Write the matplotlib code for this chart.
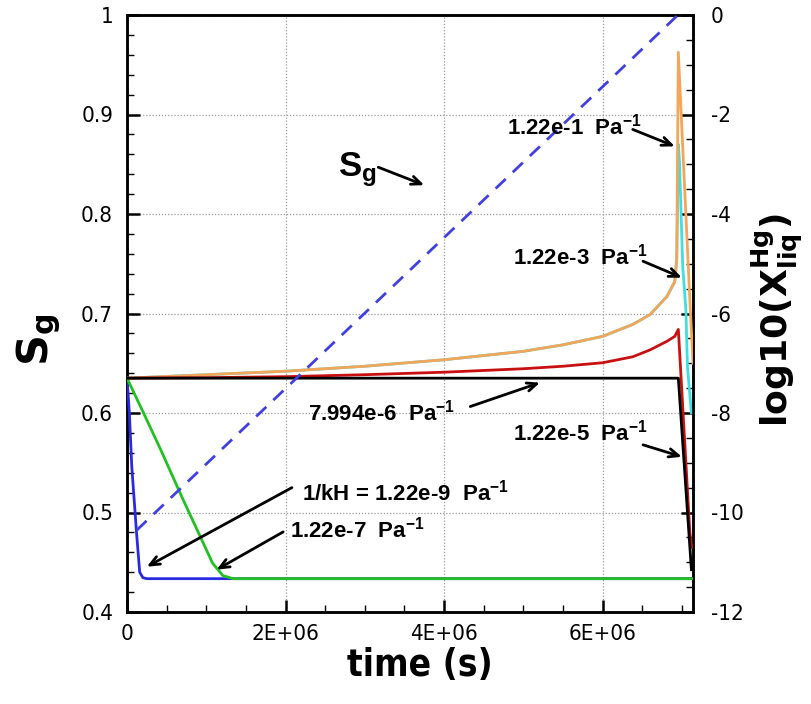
import os
import numpy as np
import matplotlib
matplotlib.use('Agg')
import matplotlib.pyplot as plt
from matplotlib import font_manager
from matplotlib.font_manager import FontProperties
from matplotlib.ticker import MultipleLocator, FixedLocator, FixedFormatter


def find_condensed(bold):
    cands = []
    for f in font_manager.fontManager.ttflist:
        nm = (f.name + ' ' + os.path.basename(f.fname)).lower()
        if 'sans' not in nm or 'mono' in nm or 'cjk' in nm or 'italic' in nm or 'oblique' in nm:
            continue
        if not ('narrow' in nm or 'condensed' in nm or f.stretch in ('condensed', 'semi-condensed')):
            continue
        if 'extra' in nm or 'ultra' in nm or 'semicondensed' in nm or 'semi' in nm:
            continue
        w = f.weight if isinstance(f.weight, int) else (700 if 'bold' in str(f.weight) else 400)
        if bold and w != 700:
            continue
        if not bold and w != 400:
            continue
        score = 0 if 'liberation' in nm else (1 if 'noto' in nm else 2)
        cands.append((score, f.fname))
    cands.sort()
    return cands[0][1] if cands else None


COND_REG = find_condensed(False)
COND_BOLD = find_condensed(True)

plt.rcParams['font.family'] = ['Liberation Sans', 'DejaVu Sans']
plt.rcParams['mathtext.fontset'] = 'custom'
plt.rcParams['mathtext.rm'] = 'Liberation Sans'
plt.rcParams['mathtext.it'] = 'Liberation Sans:italic'
plt.rcParams['mathtext.bf'] = 'Liberation Sans:bold'
plt.rcParams['mathtext.default'] = 'bf'

# ---------------- data ----------------
sg_time = [0.12e6, 6.95e6]
sg_values = [0.482, 1.0]

orange_time = [0, 1e6, 2e6, 3e6, 4e6, 5e6, 5.5e6, 6.0e6, 6.38e6, 6.6e6, 6.81e6, 6.91e6, 6.935e6, 6.955e6, 7.10e6, 7.14e6]
orange_vals = [-7.30, -7.23, -7.16, -7.06, -6.93, -6.76, -6.63, -6.46, -6.22, -6.02, -5.66, -5.36, -4.9, -0.75, -5.72, -7.0]

cyan_time = [0, 1e6, 2e6, 3e6, 4e6, 5e6, 5.5e6, 6.0e6, 6.38e6, 6.6e6, 6.81e6, 6.91e6, 6.935e6, 6.955e6, 6.97e6, 7.01e6, 7.05e6, 7.07e6, 7.12e6]
cyan_vals = [-7.30, -7.23, -7.16, -7.06, -6.93, -6.76, -6.63, -6.46, -6.22, -6.02, -5.66, -5.36, -4.9, -2.6, -2.96, -5.05, -5.92, -7.07, -8.0]

red_time = [0, 1e6, 2e6, 3e6, 4e6, 5e6, 5.5e6, 6.0e6, 6.38e6, 6.6e6, 6.81e6, 6.91e6, 6.955e6, 7.10e6, 7.12e6]
red_vals = [-7.30, -7.29, -7.27, -7.23, -7.18, -7.11, -7.06, -6.99, -6.87, -6.73, -6.56, -6.46, -6.32, -10.4, -10.7]

black_time = [0, 6.955e6, 7.12e6]
black_vals = [-7.30, -7.30, -11.15]

blue_time = [0, 0.03e6, 0.06e6, 0.12e6, 0.16e6, 0.20e6, 0.25e6, 7.12e6]
blue_vals = [-7.30, -8.0, -9.07, -10.4, -11.2, -11.31, -11.33, -11.33]

green_time = [0, 0.2e6, 0.42e6, 0.71e6, 0.92e6, 1.08e6, 1.21e6, 1.34e6, 7.12e6]
green_vals = [-7.30, -7.97, -8.72, -9.75, -10.47, -11.02, -11.27, -11.33, -11.33]

x_ticks = [0, 2e6, 4e6, 6e6]
x_ticklabels = ['0', '2E+06', '4E+06', '6E+06']
left_ticks = [0.4, 0.5, 0.6, 0.7, 0.8, 0.9, 1.0]
left_ticklabels = ['0.4', '0.5', '0.6', '0.7', '0.8', '0.9', '1']
right_ticks = [-12, -10, -8, -6, -4, -2, 0]
right_ticklabels = ['-12', '-10', '-8', '-6', '-4', '-2', '0']

# annotations: (text, text position, arrow tail, arrow tip) in (time, log10) coords
labels = [
    ('1.22e-1  Pa$^{-1}$', (4.79e6, -2.24), (6.38e6, -2.30), (6.91e6, -2.64)),
    ('1.22e-3  Pa$^{-1}$', (4.87e6, -4.85), (6.51e6, -4.95), (7.00e6, -5.28)),
    ('7.994e-6  Pa$^{-1}$', (2.28e6, -8.00), (4.33e6, -7.87), (5.21e6, -7.39)),
    ('1.22e-5  Pa$^{-1}$', (4.87e6, -8.40), (6.51e6, -8.64), (7.00e6, -8.88)),
    ('1/kH = 1.22e-9  Pa$^{-1}$', (2.21e6, -9.60), (2.08e6, -9.50), (0.25e6, -11.09)),
    ('1.22e-7  Pa$^{-1}$', (2.06e6, -10.35), (1.97e6, -10.39), (1.13e6, -11.15)),
]
sg_label = ('S$_g$', (2.66e6, -3.10), (3.17e6, -3.06), (3.75e6, -3.42))

# ---------------- figure ----------------
fig = plt.figure(figsize=(8.12, 7.04), dpi=100)
ax = fig.add_axes([127/812, 1-612/704, (693-127)/812, (612-15)/704])
ax2 = ax.twinx()

ax.set_xlim(0, 7.14e6)
ax.set_ylim(0.4, 1.0)
ax2.set_ylim(-12, 0)

lw = 2.0
ax2.plot(cyan_time, cyan_vals, color='#40dede', lw=lw, zorder=2)
ax2.plot(orange_time, orange_vals, color='#f2a65a', lw=lw, zorder=3)
ax2.plot(red_time, red_vals, color='#c81010', lw=lw, zorder=4)
ax2.plot(blue_time, blue_vals, color='#2a2ae0', lw=lw, zorder=5)
ax2.plot(green_time, green_vals, color='#22c022', lw=lw, zorder=6)
ax2.plot(black_time, black_vals, color='black', lw=lw, zorder=7)
ax2.plot(sg_time, sg_values, color='#4040e0', lw=lw, ls=(0, (5, 3.5)), zorder=8,
         transform=ax.transData)

# grid
ax.grid(True, which='major', ls=(0, (1, 1.5)), color='#999999', lw=0.9)
ax.set_axisbelow(True)

# ticks
ax.xaxis.set_major_locator(FixedLocator(x_ticks))
ax.xaxis.set_major_formatter(FixedFormatter(x_ticklabels))
ax.xaxis.set_minor_locator(MultipleLocator(0.5e6))
ax.yaxis.set_major_locator(FixedLocator(left_ticks))
ax.yaxis.set_major_formatter(FixedFormatter(left_ticklabels))
ax.yaxis.set_minor_locator(MultipleLocator(0.02))
ax2.yaxis.set_major_locator(FixedLocator(right_ticks))
ax2.yaxis.set_major_formatter(FixedFormatter(right_ticklabels))
ax2.yaxis.set_minor_locator(MultipleLocator(0.5))

tick_size = 16 if COND_REG else 14
for a in (ax, ax2):
    a.tick_params(which='major', direction='in', length=9, width=1.8, labelsize=tick_size)
    a.tick_params(which='minor', direction='in', length=5, width=1.0)
ax.tick_params(axis='x', pad=9)
ax.tick_params(axis='y', pad=10)
ax2.tick_params(axis='y', pad=13)
ax.tick_params(axis='y', which='both', right=False)
if COND_REG:
    for t in ax.get_xticklabels() + ax.get_yticklabels() + ax2.get_yticklabels():
        t.set_fontproperties(FontProperties(fname=COND_REG, size=tick_size))
for s in ax.spines.values():
    s.set_linewidth(1.8)
for s in ax2.spines.values():
    s.set_linewidth(1.8)

renderer = fig.canvas.get_renderer()


def fit_size(text_obj, size0, target_px, horizontal=True):
    text_obj.set_fontsize(size0)
    bb = text_obj.get_window_extent(renderer)
    cur = bb.width if horizontal else bb.height
    if cur > 0:
        text_obj.set_fontsize(size0 * target_px / cur)


xl = ax.set_xlabel('time (s)', fontsize=30, fontweight='bold')
if COND_BOLD:
    xl.set_fontproperties(FontProperties(fname=COND_BOLD, size=30))
fit_size(xl, 30, 146, True)
ax.xaxis.set_label_coords(0.518, -0.058)

ylab = ax.set_ylabel('S$_g$', fontsize=31, fontweight='bold', family='DejaVu Sans')
ylab.set_math_fontfamily('dejavusans')
ax.yaxis.set_label_coords(-0.113, 0.456)

rlab = ax2.set_ylabel('log10(X$_{liq}^{Hg}$)', fontsize=30, fontweight='bold', family='DejaVu Sans')
rlab.set_math_fontfamily('dejavusans')
fit_size(rlab, 30, 214, False)
ax2.yaxis.set_label_coords(1.1, 0.49)

arrow_kw = dict(arrowstyle='->,head_length=0.7,head_width=0.3', lw=2.0, color='black',
                shrinkA=0, shrinkB=0)
for txt, tpos, tail, tip in labels:
    ax2.text(tpos[0], tpos[1], txt, fontsize=16, fontweight='bold', ha='left', va='center', zorder=10)
    ax2.annotate('', xy=tip, xytext=tail, arrowprops=arrow_kw, zorder=10)

txt, tpos, tail, tip = sg_label
ax2.text(tpos[0], tpos[1], txt, fontsize=25, fontweight='bold', ha='left', va='center', zorder=10)
ax2.annotate('', xy=tip, xytext=tail, arrowprops=arrow_kw, zorder=10)

fig.savefig('out.png', dpi=100)
